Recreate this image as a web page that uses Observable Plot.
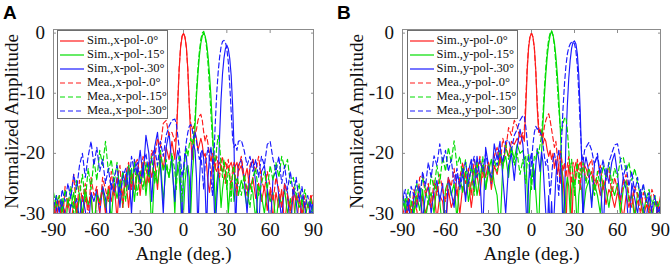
<!DOCTYPE html>
<html><head><meta charset="utf-8">
<script src="https://cdn.jsdelivr.net/npm/d3@7"></script>
<script src="https://cdn.jsdelivr.net/npm/@observablehq/plot@0.6"></script>
<style>
body{margin:0;background:#fff;}
#wrap{position:relative;width:671px;height:265px;overflow:hidden;background:#fff;}
.panel{position:absolute;top:0;}
.letter{position:absolute;top:1.5px;line-height:19px;font:bold 19px "Liberation Sans",Arial,sans-serif;color:#000;}
.legend{position:absolute;top:30px;width:111px;height:89px;background:#fff;border:1px solid #6e6e6e;box-sizing:border-box;font:12.5px "Liberation Serif",serif;color:#111;}
.row{position:absolute;left:0;height:14px;display:flex;align-items:center;white-space:nowrap;}
.row svg{flex:none;}
</style></head><body><div id="wrap"></div>
<script>
// Angle grid (deg.)
const angles = [
 -90,-88,-86,-84,-82,-80,-78,-76,-74,-72,-70,-68,-66,-64,-62,-60,-58,-56,-54,-52,-50,-48,-46,-44,-42,-40,-38,-36,-34,-32,-30,-28,-26,-24,-22,-20,-18,-16,-14,-12,-10,-8,-6,
 -5,-4,-3,-2,-1,0,1,2,3,4,5,6,7,8,9,10,11,12,13,14,15,16,17,18,19,20,21,22,23,24,25,26,27,28,29,30,31,32,33,34,35,36,37,
 38,40,42,44,46,48,50,52,54,56,58,60,62,64,66,68,70,72,74,76,78,80,82,84,86,88,90];

// Panel A (x-pol)
const simX0 = [
 -31,-28,-33,-28.5,-30,-27.5,-32,-28,-29.5,-27, -31,-27.5,-29,-26.5,-33,-27,-28.5,-26,-30,-25.5, -28,-25,-31,-24.5,-27,-24,-29,-23.5,-26,-22.5, -27,-22,-25.5,-21.5,-24,-21,-26,-20,-22.5,-19, -21,-18,-21,
 -17.5,-12,-6,-2.3,-0.6,0,-0.6,-2.3,-6,-12, -17.5,-21,-17.5,-16.5,-17.5,-19.5,-18.5,-17.5,-18.5,-20.5, -20,-22,-25,-26.5,-24,-22,-21.5,-22.5,-23,-22, -21.5,-22,-23,-22.5,-21.5,-22,-22.5,-22,-21.5,-22.5, -23.5,-22,-21.5,
 -23,-22,-24.5,-22.5,-26,-24,-27.5,-25,-28,-25.5, -29.5,-26,-31,-26.5,-29,-26,-32,-27,-29.5,-27, -33,-27.5,-30,-28,-33,-27,-29];
const simX15 = [
 -30,-27,-29.5,-27.5,-33,-28,-29,-26.5,-31,-27, -30,-26,-28.5,-27,-33,-26.5,-28,-25.5,-29,-26, -31,-25,-27.5,-24.5,-29,-23.5,-26,-22.5,-28,-23, -25,-21.5,-27,-22,-33,-23,-25,-21,-28,-22, -24,-20.5,-30,
 -24,-22,-23.5,-28,-33,-30,-25,-22.5,-22,-24, -30,-24,-20.5,-15.5,-10.5,-6.8,-3.8,-1.7,-0.5,0, -0.5,-1.7,-3.8,-6.8,-10.5,-15.5,-21,-30,-25,-23, -24.5,-29,-26,-24,-23.5,-25,-30,-26.5,-24.5,-25, -28,-26,-25,
 -27,-24.5,-26,-29,-25,-26.5,-31,-25.5,-27,-30, -26,-28,-26.5,-32,-27,-28.5,-26,-30,-27.5,-33, -27,-29,-28,-31,-28.5,-30,-29];
const simX30 = [
 -33,-29,-31,-28,-30,-33,-28.5,-29,-27.5,-31, -27,-29.5,-33,-26.5,-28,-26,-30,-25.5,-27.5,-33, -25,-26.5,-24,-29,-23,-25.5,-22,-30,-21,-23.5, -19.5,-24,-17,-20,-28,-19,-16.5,-22,-30,-19, -16.5,-22,-28,
 -21,-19.5,-20.5,-25,-33,-23,-20,-20.5,-24,-33, -24,-19.5,-18.5,-19.5,-24,-33,-25,-20,-19.5,-21, -26,-33,-24,-20.5,-19,-21,-27,-33,-28,-24, -17,-11,-6.8,-4.2,-2.6,-2,-2.6,-4.2,-7,-12, -19,-33,-26,
 -22,-21,-24,-30,-22.5,-21,-25,-33,-23,-22, -26,-33,-24,-23,-27,-31,-25,-26.5,-33,-26, -28,-33,-27,-29,-33,-28,-31];
const meaX0 = [
 -28,-31,-27,-33,-25.5,-29,-27,-23.5,-30,-24.5, -28,-25,-31,-24,-27,-25.5,-30,-24,-26,-28, -23,-27,-24.5,-22,-29,-23.5,-21.5,-26,-22,-21, -24,-20.5,-22.5,-25,-19.5,-21,-17.5,-19,-15,-14.5, -17,-16.5,-18,
 -17,-11.5,-5.8,-2.2,-0.5,0,-0.7,-2.5,-6.2,-12, -15,-16,-15.5,-17,-16,-14.5,-13.8,-13.5,-14.5,-16.5, -18,-17,-18.5,-20,-21.5,-20,-21,-22.5,-20.5,-22, -24,-21.5,-20.5,-23,-25,-22,-21,-23.5,-26,-22.5, -21.5,-24,-27,
 -22.5,-20.5,-24,-27,-22,-21,-23,-20.5,-24.5,-26, -23,-25.5,-28,-24,-26,-29,-25,-27,-30,-25.5, -28,-26.5,-31,-27,-29,-27.5,-26.5];
const meaX15 = [
 -26.5,-29,-27,-30,-26,-28.5,-25.5,-30,-24.5,-27, -23.5,-28,-22.5,-26,-21,-24.5,-19.5,-22,-18,-23, -21,-25,-21.5,-26.5,-23,-28,-22,-25,-21.5,-27, -23,-26,-21.5,-24,-20.5,-25,-22,-19.5,-23,-21, -24,-20,-23,
 -26,-22,-20.5,-23,-28,-24,-21,-19,-20.5,-18.5, -17.5,-18.5,-17,-14,-9.5,-5.8,-3,-1,0,0.3, -0.6,-2.4,-5.2,-9,-13.5,-17.5,-20.5,-21.5,-19,-17, -18.5,-22,-24,-21,-23,-26,-22.5,-24,-28,-23, -22,-25,-24,
 -25,-27,-23.5,-26,-29,-24,-22.5,-27,-25,-23, -26,-22,-24.5,-21.5,-24,-20.5,-22.5,-21,-25,-24, -27,-25,-28.5,-26,-29,-27.5,-30];
const meaX30 = [
 -29,-27,-30,-26,-28,-25,-27.5,-23.5,-26,-22, -20,-24,-20.5,-18,-22,-19,-23,-21,-25,-22.5, -26,-24,-22,-27,-24,-22.5,-26,-20.5,-23,-21.5, -25,-22,-20,-23.5,-21,-19,-22,-18,-20.5,-17, -15.5,-14.5,-14.3,
 -15,-17,-19,-21,-24,-22.5,-20,-18,-16.5,-15.5, -15.2,-16,-17.5,-16.5,-18,-19.5,-21,-20,-23,-26, -22,-20.5,-19,-21,-24,-27,-21,-15,-10,-6.5, -4,-2.3,-1.4,-1.2,-1.5,-2.6,-4.8,-8.5,-13,-17.5, -19,-18.5,-19.5,
 -18,-17.8,-19.5,-22,-20.5,-23,-21,-24,-20.5,-22, -18.5,-18,-21,-23,-20.5,-25,-22,-26,-23,-27, -24,-28,-25.5,-29,-27,-30,-28];

// Panel B (y-pol)
const simY0 = [
 -30,-33,-28.5,-31,-28,-29.5,-33,-27,-30,-28, -29,-26.5,-31,-27,-28,-33,-26,-29,-27.5,-26, -30,-25.5,-27,-24.5,-29,-25,-23.5,-27,-22,-24, -21.5,-26,-22,-23.5,-20.5,-22,-19,-20.5,-18,-18.5, -17.5,-18.5,-17,
 -18,-12.5,-6.2,-2.4,-0.6,0,-0.6,-2.4,-6.2,-12.5, -16.5,-16,-17,-18.5,-17.5,-18,-19.5,-20.5,-19.5,-21, -20,-22.5,-21,-23.5,-22,-25,-22.5,-24,-28,-33, -25,-22,-24,-33,-26,-22.5,-21.5,-23,-22,-21.5, -22.5,-23,-22,
 -22.5,-24,-23,-26,-24.5,-27,-25,-28.5,-26,-27, -29,-26.5,-28,-31,-27,-29,-26.5,-30,-28,-27.5, -31,-28.5,-30,-29,-33,-28,-30];
const simY15 = [
 -29,-27.5,-33,-28,-30,-27,-29.5,-26,-31,-28, -26.5,-30,-25,-28,-33,-26,-24.5,-27,-25,-31, -24,-26.5,-23,-28,-25,-22.5,-27,-24,-22,-26, -23,-21,-25,-27,-33,-22,-20.5,-24,-19,-21, -18.5,-20,-19.5,
 -21,-20.5,-26,-33,-27,-24,-22,-23,-26.5,-30, -33,-25,-20,-15,-10.5,-6.8,-3.8,-1.7,-0.4,0.3, -0.3,-1.6,-3.8,-6.8,-10.5,-15.5,-21,-29,-33,-26, -24,-25.5,-30,-26,-24,-24.5,-28,-33,-27,-25, -26,-30,-28,
 -26,-24.5,-28,-25,-27,-30,-24.5,-26,-29,-25.5, -27,-25,-30,-26,-24.5,-28,-27,-31,-26.5,-28, -30,-27.5,-29,-31,-28,-29.5,-30];
const simY30 = [
 -26,-30,-27.5,-33,-26.5,-29,-25.5,-31,-27,-25.5, -30,-26,-24.5,-28,-25,-33,-24,-26.5,-29,-23.5, -25,-22.5,-28,-23,-21,-26,-20.5,-24,-33,-19, -22,-25,-18.4,-21,-18,-24,-30,-22,-20,-24.5, -19,-16,-18.5,
 -22,-28,-33,-25,-21,-20,-22,-26,-22,-19.2, -21,-23,-19.8,-21.5,-26,-30,-33,-27,-33,-28, -33,-29,-24,-21,-19.5,-21,-25,-33,-28,-18, -12,-7.5,-4.5,-2.5,-1.5,-1.3,-1.8,-3.5,-7,-13, -21,-33,-22,
 -20.6,-23,-29,-21.5,-20.5,-24,-33,-22.5,-25,-21.5, -20,-23.5,-28,-24,-26,-33,-25,-27.5,-30,-26, -29,-31,-27,-30,-33,-28.5,-30];
const meaY0 = [
 -29,-31,-27.5,-30,-26,-28.5,-24,-23.5,-27,-25, -29,-24.5,-27,-23.5,-26,-28,-24,-25.5,-22.5,-27, -24,-21.5,-25,-22.5,-27,-21,-23.5,-20.5,-24,-22, -21.5,-25,-20.5,-19,-22,-17.5,-19.5,-15.7,-17,-14.5, -15.5,-17.5,-16.5,
 -16,-11,-5.6,-2.1,-0.5,0,-0.7,-2.6,-6.4,-11.5, -15.5,-17,-16,-17.5,-15.5,-14.5,-13.8,-13.4,-14.5,-16, -17.5,-19,-18,-20.5,-22,-19.5,-21,-23,-21.5,-24, -22,-20.5,-23,-25,-21.5,-22.5,-24.5,-21,-22.5,-26, -21.5,-20.6,-23,
 -24.5,-22,-21,-25,-23.5,-22,-26,-24,-22.5,-27, -24,-26,-28,-25,-23.5,-27,-29,-25.5,-27,-30, -26.5,-28,-29.5,-26,-27.5,-30,-27];
const meaY15 = [
 -27,-29.5,-26,-28,-30,-25,-27.5,-24,-26,-28.5, -23.5,-26,-22,-25,-20.5,-23,-19,-21.5,-17.9,-22, -20.5,-24,-21,-25.5,-22,-27,-21.5,-24.5,-20.5,-26, -22,-24.5,-21,-23,-19.5,-22.5,-18.5,-21,-19,-22, -20,-23.5,-21,
 -23,-25,-21.5,-20,-22.5,-26,-23,-20.5,-21,-19.5, -20,-18.5,-17,-13.5,-9.2,-5.6,-2.8,-1,0,0.4, -0.4,-2.2,-5,-8.6,-12.5,-15.5,-16.5,-15,-14.2,-14, -16,-19.5,-23,-21,-24,-27,-23,-21.5,-25,-22.5, -24,-21.5,-23,
 -25,-22.5,-24,-27,-23,-25.5,-22,-24,-21.5,-25, -22.5,-24,-21,-20.6,-23,-21.5,-24.5,-22.5,-25,-27, -25.5,-27.5,-26,-28.5,-27,-29,-27.5];
const meaY30 = [
 -28,-26,-29.5,-25.5,-27,-24.5,-28,-23,-25.5,-21.5, -24,-20.4,-22,-18.4,-21.5,-19.5,-23,-21,-25,-22.5, -26,-23.5,-21.5,-25,-22.5,-20.5,-24,-21,-23,-20, -22.5,-24,-20.5,-22,-19.5,-21.5,-18,-17.8,-19.5,-17, -16,-14.5,-13.7,
 -13.9,-15.5,-18,-21,-24,-21.5,-18.5,-16.5,-15.5,-16, -15.8,-16.5,-17,-18.5,-20.5,-22,-21,-23.5,-27,-24, -21,-20,-21.5,-24,-27,-23,-17.5,-12.5,-8.5,-5.5, -3.5,-2.4,-1.8,-1.5,-1.5,-1.8,-3,-5.5,-10,-15.5, -20,-21.5,-19.5,
 -19,-18.2,-19.5,-22,-20,-23.5,-21,-24.5,-21.5,-20, -18.6,-18.4,-21,-24,-22,-25.5,-23,-26.5,-24,-27.5, -25,-28,-26.5,-29.5,-27,-30,-28.5];

const xTicks = [-90, -60, -30, 0, 30, 60, 90];
const yTicks = [-30, -20, -10, 0];
const namesA = ["Sim.,x-pol-.0°", "Sim.,x-pol-.15°", "Sim.,x-pol-.30°", "Mea.,x-pol-.0°", "Mea.,x-pol-.15°", "Mea.,x-pol-.30°"];
const namesB = ["Sim.,y-pol-.0°", "Sim.,y-pol-.15°", "Sim.,y-pol-.30°", "Mea.,y-pol-.0°", "Mea.,y-pol-.15°", "Mea.,y-pol-.30°"];
const colors = ["#ff1a1a", "#00dd00", "#1a1aff"];
const xLabel = "Angle (deg.)";
const yLabel = "Normalized Amplitude";

const FONT = '"Liberation Serif", "Times New Roman", serif';
const GRAY = "#8c8c8c";

function makePanel(series, opts) {
  const marks = [];
  series.forEach((vals, k) => {
    if (vals.length !== angles.length) console.error("length mismatch", k, vals.length);
    marks.push(Plot.line(vals, {
      x: angles, y: vals, stroke: colors[k % 3], strokeWidth: 1.15,
      strokeDasharray: k >= 3 ? "5,3" : null, clip: true, curve: "linear"
    }));
  });
  marks.push(
    Plot.frame({stroke: GRAY, strokeWidth: 1}),
    Plot.axisX({ticks: xTicks, tickSize: -3, tickPadding: 11.5, stroke: GRAY, fill: "#111", fontSize: 19, label: null, tickFormat: d => String(d)}),
    Plot.axisX({anchor: "top", ticks: xTicks, tickSize: -3, stroke: GRAY, tickFormat: () => "", label: null}),
    Plot.axisY({ticks: yTicks, tickSize: -3, tickPadding: 11.5, stroke: GRAY, fill: "#111", fontSize: 19, label: null, tickFormat: d => String(d)}),
    Plot.axisY({anchor: "right", ticks: yTicks, tickSize: -3, stroke: GRAY, tickFormat: () => "", label: null}),
    Plot.text([xLabel], {text: d => d, frameAnchor: "bottom", dy: 40, lineAnchor: "middle", textAnchor: "middle", fontSize: 19, fill: "#111"}),
    Plot.text([yLabel], {text: d => d, frameAnchor: "left", rotate: -90, dx: opts.yLabelDx, lineAnchor: "middle", textAnchor: "middle", fontSize: 19, fill: "#111"})
  );
  return Plot.plot({
    width: opts.width, height: 265,
    marginLeft: opts.ml, marginRight: opts.mr, marginTop: 29, marginBottom: 52,
    x: {domain: [-90, 90]},
    y: {domain: [-30, 0.6]},
    style: {fontFamily: FONT, background: "transparent", overflow: "visible"},
    marks
  });
}

function makeLegend(left, names) {
  const div = document.createElement("div");
  div.className = "legend";
  div.style.left = left + "px";
  names.forEach((n, k) => {
    const row = document.createElement("div");
    row.className = "row";
    row.style.top = (2.5 + 14 * k) + "px";
    const dash = k >= 3 ? ' stroke-dasharray="5,3"' : "";
    row.innerHTML = `<svg width="29" height="14"><line x1="2" x2="26" y1="7" y2="7" stroke="${colors[k % 3]}" stroke-width="1.2"${dash}/></svg>`;
    const span = document.createElement("span");
    span.textContent = n;
    row.appendChild(span);
    div.appendChild(row);
  });
  return div;
}

const wrap = document.getElementById("wrap");
const pa = makePanel([simX0, simX15, simX30, meaX0, meaX15, meaX30], {width: 335, ml: 53, mr: 22, yLabelDx: -41.5});
pa.classList.add("panel"); pa.style.left = "0px";
const pb = makePanel([simY0, simY15, simY30, meaY0, meaY15, meaY30], {width: 336, ml: 67, mr: 11, yLabelDx: -46});
pb.classList.add("panel"); pb.style.left = "335px";
wrap.appendChild(pa);
wrap.appendChild(pb);
wrap.appendChild(makeLegend(57, namesA));
wrap.appendChild(makeLegend(406.5, namesB));
const la = document.createElement("div"); la.className = "letter"; la.style.left = "3px"; la.textContent = "A"; wrap.appendChild(la);
const lb = document.createElement("div"); lb.className = "letter"; lb.style.left = "337px"; lb.textContent = "B"; wrap.appendChild(lb);
</script>
</body></html>
